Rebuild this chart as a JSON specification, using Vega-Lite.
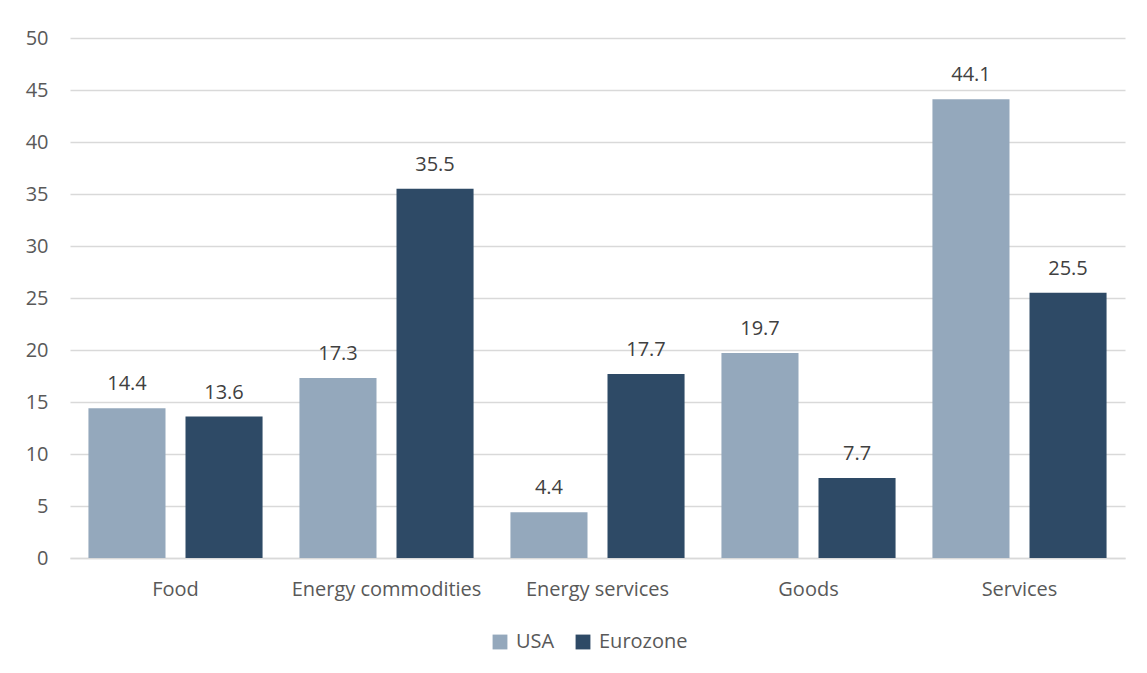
{
  "$schema": "https://vega.github.io/schema/vega-lite/v6.json",
  "width": 1055,
  "height": 520,
  "autosize": {"type": "none"},
  "padding": {"left": 70, "top": 38, "right": 22, "bottom": 115},
  "background": "white",
  "config": {
    "view": {"stroke": null},
    "font": "Open Sans",
    "axis": {"labelFont": "Open Sans", "labelColor": "#595959", "labelFontSize": 20},
    "legend": {"labelFont": "Open Sans", "labelColor": "#595959", "labelFontSize": 20}
  },
  "data": {
    "values": [
      {"category": "Food", "region": "USA", "value": 14.4},
      {"category": "Food", "region": "Eurozone", "value": 13.6},
      {"category": "Energy commodities", "region": "USA", "value": 17.3},
      {"category": "Energy commodities", "region": "Eurozone", "value": 35.5},
      {"category": "Energy services", "region": "USA", "value": 4.4},
      {"category": "Energy services", "region": "Eurozone", "value": 17.7},
      {"category": "Goods", "region": "USA", "value": 19.7},
      {"category": "Goods", "region": "Eurozone", "value": 7.7},
      {"category": "Services", "region": "USA", "value": 44.1},
      {"category": "Services", "region": "Eurozone", "value": 25.5}
    ]
  },
  "encoding": {
    "x": {
      "field": "category",
      "type": "nominal",
      "sort": ["Food", "Energy commodities", "Energy services", "Goods", "Services"],
      "scale": {"paddingInner": 0, "paddingOuter": 0},
      "axis": {"title": null, "labelAngle": 0, "labelLimit": 0, "ticks": false, "domain": true, "domainColor": "#d9d9d9", "domainWidth": 1.5, "labelPadding": 21}
    },
    "xOffset": {
      "field": "region",
      "type": "nominal",
      "sort": ["USA", "Eurozone"],
      "scale": {"paddingInner": 0.206, "paddingOuter": 0.19}
    },
    "y": {
      "field": "value",
      "type": "quantitative",
      "scale": {"domain": [0, 50]},
      "axis": {"title": null, "values": [0,5,10,15,20,25,30,35,40,45,50], "labelOverlap": false, "ticks": false, "domain": false, "gridColor": "#d9d9d9", "gridWidth": 1.5, "labelPadding": 22}
    }
  },
  "layer": [
    {
      "mark": {"type": "bar", "strokeWidth": 1},
      "encoding": {
        "color": {
          "field": "region",
          "type": "nominal",
          "sort": ["USA", "Eurozone"],
          "scale": {"domain": ["USA", "Eurozone"], "range": ["#94a8bc", "#2e4a66"]},
          "legend": {"title": null, "orient": "none", "legendX": 420, "legendY": 594, "direction": "horizontal", "symbolType": "square", "symbolSize": 220, "symbolStrokeWidth": 0, "columnPadding": 18, "labelOffset": 6}
        }
      }
    },
    {
      "mark": {"type": "text", "dy": -24, "fontSize": 20, "color": "#404040", "font": "Open Sans"},
      "encoding": {
        "text": {"field": "value", "type": "quantitative", "format": ".1f"}
      }
    }
  ]
}
